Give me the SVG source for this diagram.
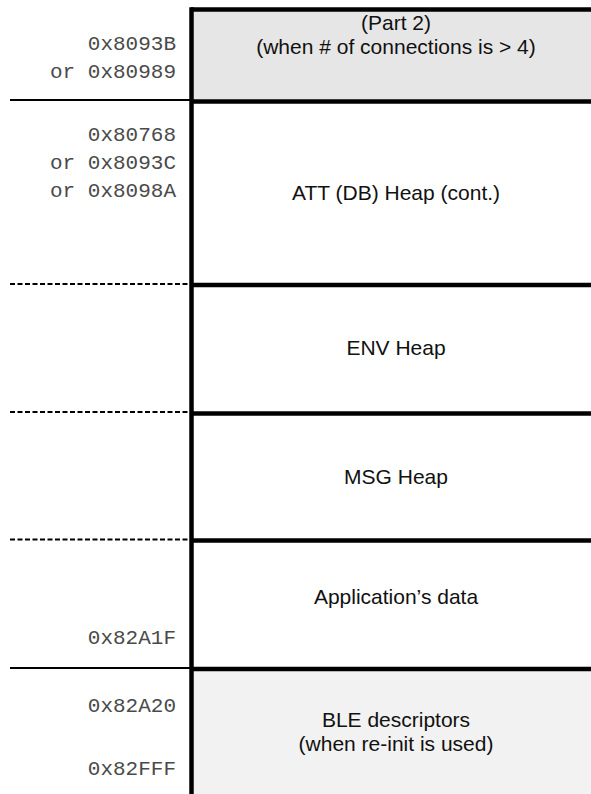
<svg xmlns="http://www.w3.org/2000/svg" width="591" height="794" viewBox="0 0 591 794">
<style>
.addr{font-family:"Liberation Mono","Courier New",monospace;font-size:21px;fill:#4a4a4a;text-anchor:end}
.lbl{font-family:"Liberation Sans",Arial,sans-serif;font-size:21px;fill:#111;text-anchor:middle}
.thick{stroke:#000;stroke-width:4.5;fill:none}
.thin{stroke:#000;stroke-width:2;fill:none}
.dash{stroke:#000;stroke-width:2;fill:none;stroke-dasharray:5 2.5}
</style>
<rect width="591" height="794" fill="#fff"/>
<g id="part2">
<rect x="191" y="9" width="400" height="92" fill="#e6e6e6"/>
<text class="lbl" x="396" y="30">(Part 2)</text>
<text class="lbl" x="396" y="54">(when # of connections is &gt; 4)</text>
<text class="addr" x="176" y="50">0x8093B</text>
<text class="addr" x="176" y="78">or 0x80989</text>
</g>
<g id="att">
<text class="lbl" x="396" y="200">ATT (DB) Heap (cont.)</text>
<text class="addr" x="176" y="141">0x80768</text>
<text class="addr" x="176" y="169">or 0x8093C</text>
<text class="addr" x="176" y="197">or 0x8098A</text>
</g>
<g id="env">
<text class="lbl" x="396" y="355">ENV Heap</text>
</g>
<g id="msg">
<text class="lbl" x="396" y="484">MSG Heap</text>
</g>
<g id="app">
<text class="lbl" x="396" y="604">Application’s data</text>
<text class="addr" x="176" y="644">0x82A1F</text>
</g>
<g id="ble">
<rect x="191" y="668" width="400" height="126" fill="#f2f2f2"/>
<text class="lbl" x="396" y="727">BLE descriptors</text>
<text class="lbl" x="396" y="751">(when re-init is used)</text>
<text class="addr" x="176" y="712">0x82A20</text>
<text class="addr" x="176" y="775">0x82FFF</text>
</g>
<g id="connectors">
<line class="thin" x1="10" y1="100" x2="191" y2="100"/>
<line class="dash" x1="10" y1="284" x2="188" y2="284"/>
<line class="dash" x1="10" y1="412" x2="188" y2="412"/>
<line class="dash" x1="10" y1="539.5" x2="188" y2="539.5"/>
<line class="thin" x1="10" y1="668" x2="191" y2="668"/>
<line class="thick" x1="191" y1="9.5" x2="591" y2="9.5"/>
<line class="thick" x1="191" y1="101.5" x2="591" y2="101.5"/>
<line class="thick" x1="191" y1="285" x2="591" y2="285"/>
<line class="thick" x1="191" y1="413.5" x2="591" y2="413.5"/>
<line class="thick" x1="191" y1="540.5" x2="591" y2="540.5"/>
<line class="thick" x1="191" y1="669" x2="591" y2="669"/>
<line class="thick" x1="191.5" y1="7.3" x2="191.5" y2="794"/>
</g>
</svg>
